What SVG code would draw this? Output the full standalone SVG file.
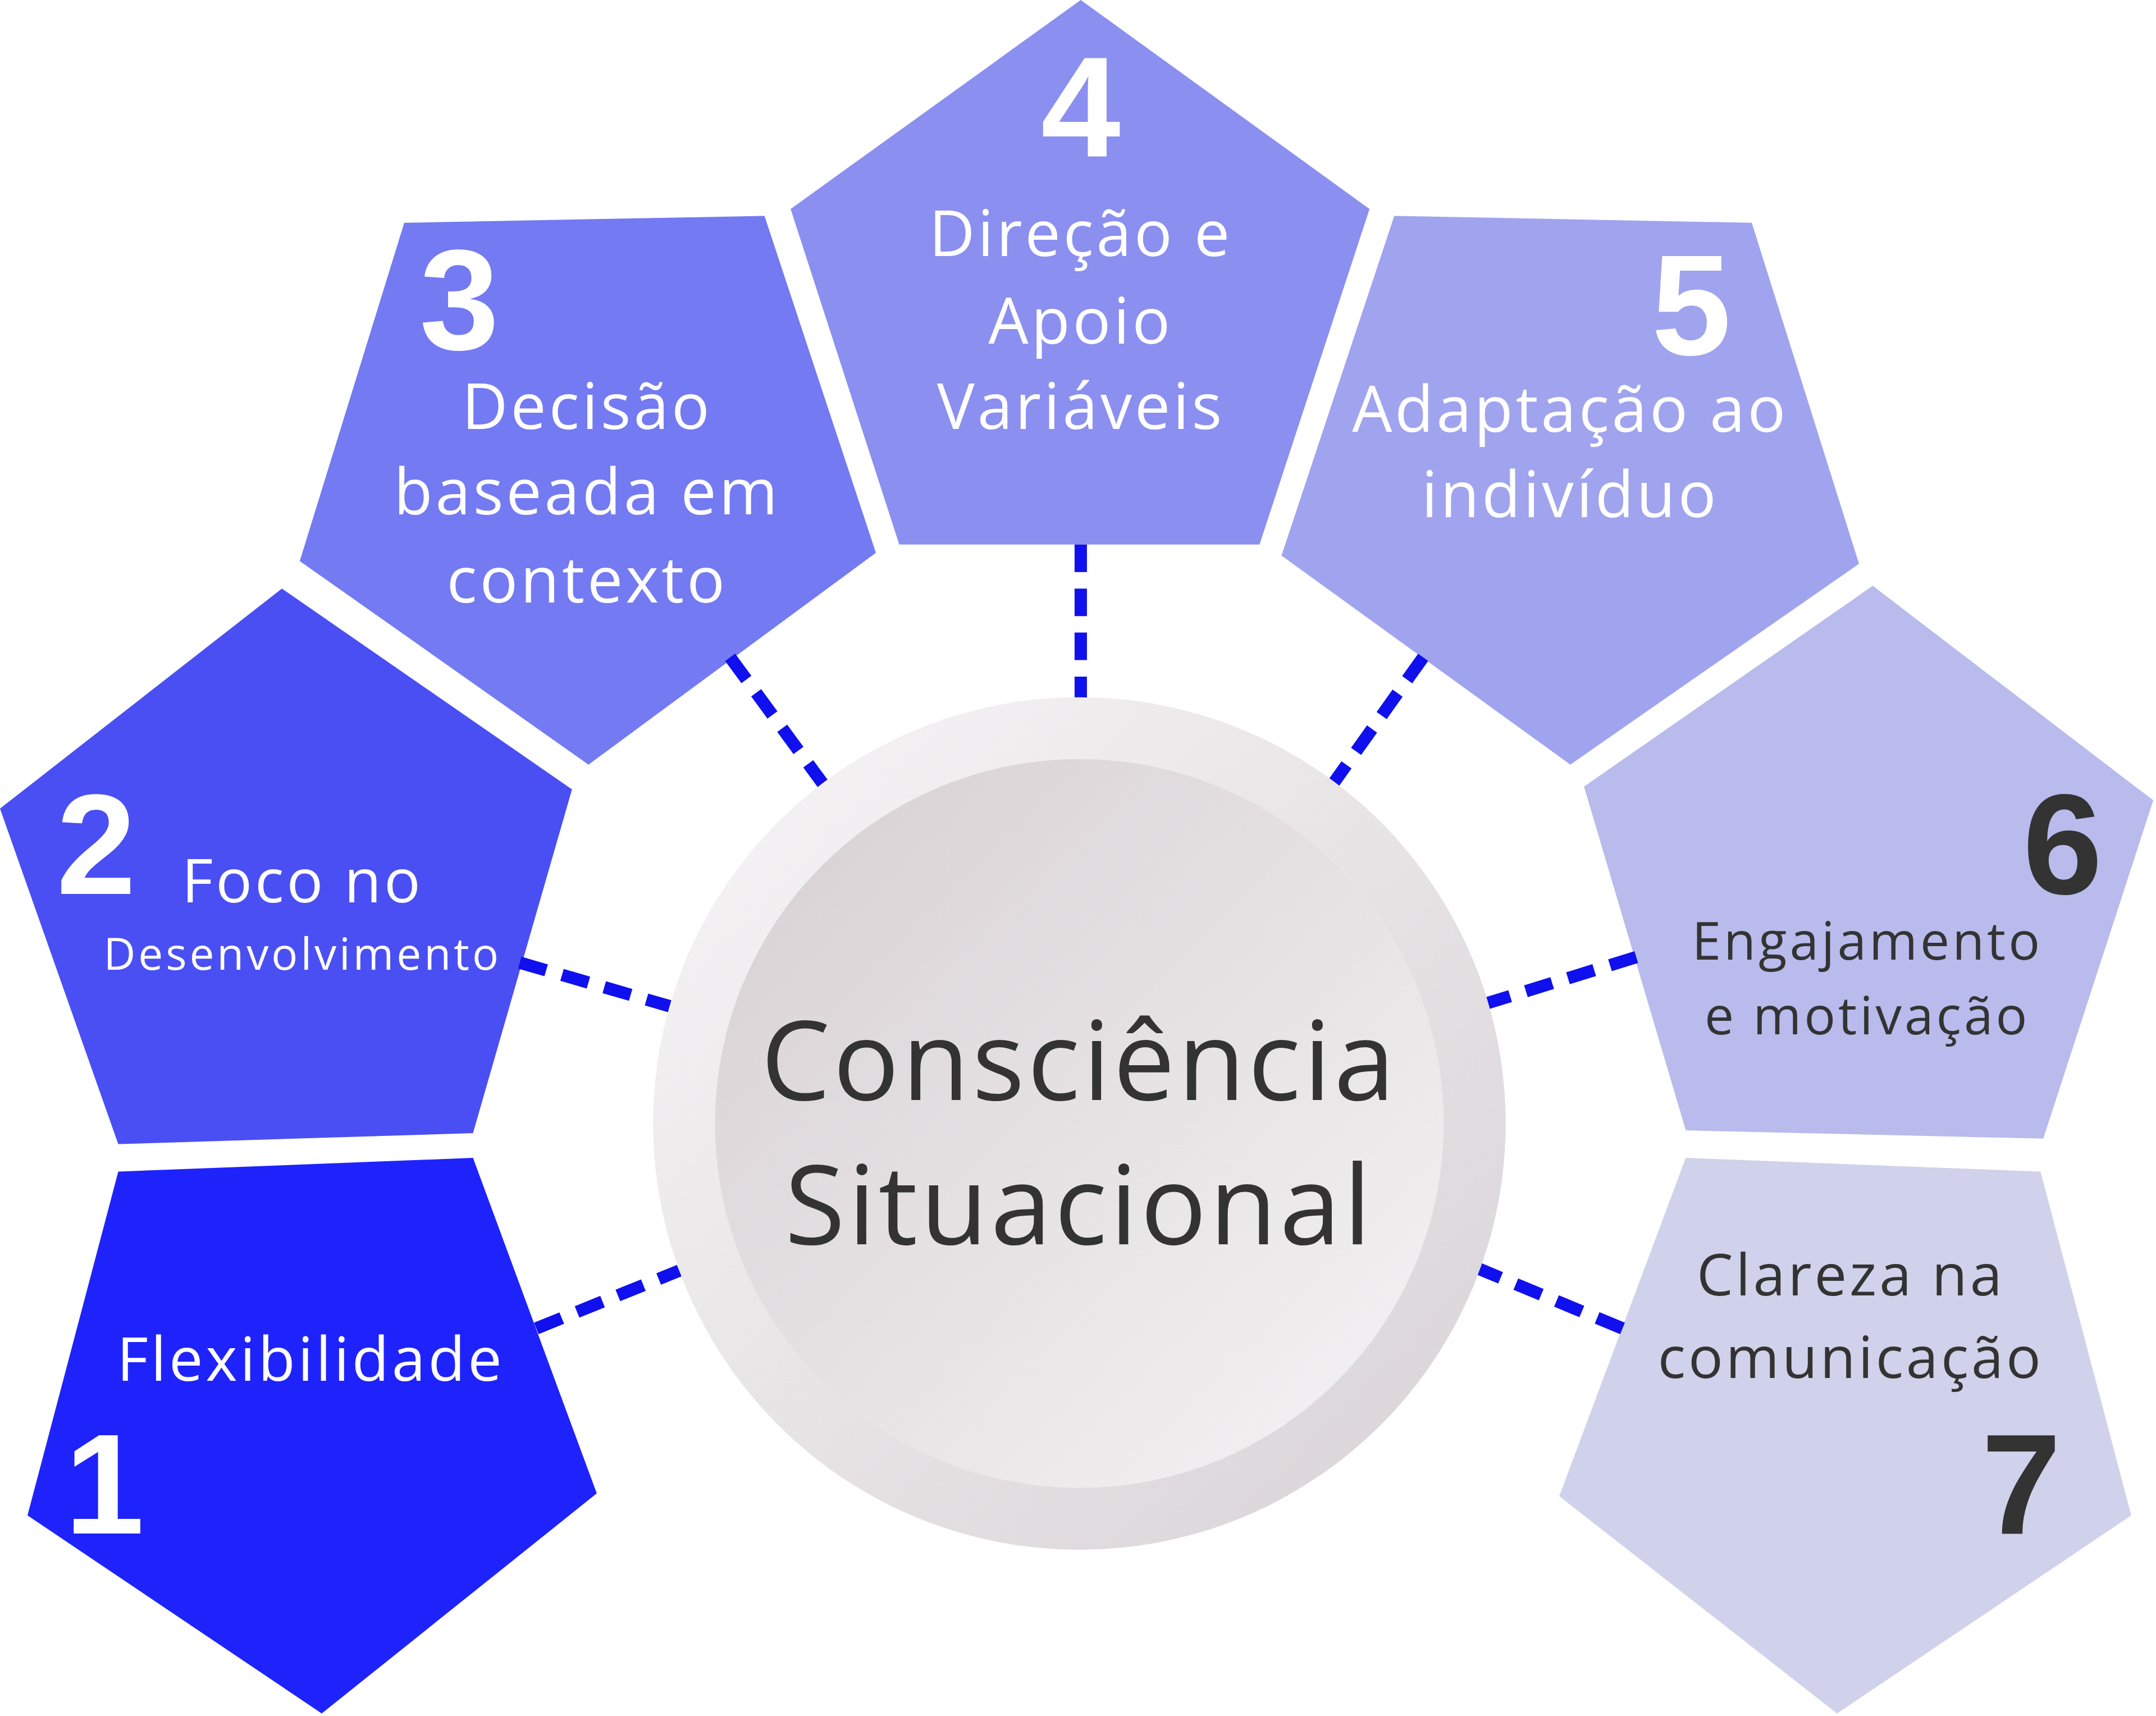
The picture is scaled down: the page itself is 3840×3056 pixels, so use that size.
<svg xmlns="http://www.w3.org/2000/svg" width="3840" height="3056" viewBox="0 0 3840 3056">
<defs>
<linearGradient id="gOuter" x1="0" y1="0" x2="1" y2="1"><stop offset="0" stop-color="#f7f6f7"/><stop offset="1" stop-color="#d8d2d5"/></linearGradient>
<linearGradient id="gInner" x1="0" y1="0" x2="1" y2="1"><stop offset="0" stop-color="#d6cfd2"/><stop offset="1" stop-color="#f5f4f5"/></linearGradient>
<style>
.lbl{font-family:"Open Sans","Liberation Sans",sans-serif;fill:#fff;text-anchor:middle;letter-spacing:2px}
.num{font-family:"Liberation Sans",sans-serif;font-weight:bold;fill:#fff;text-anchor:middle;font-size:104px}
.dk{fill:#333}
.con{stroke:#1010ee;stroke-width:9;stroke-dasharray:20 12;fill:none}
</style>
</defs>
<rect width="3840" height="3056" fill="#fff"/>
<g transform="scale(2.449)">
<g id="node1"><polygon points="86,852 344,842 434,1086 234,1246 20,1102" fill="#1f23fb"/><text class="num" x="76" y="1115">1</text><text class="lbl" x="226" y="1004" font-size="44">Flexibilidade</text></g>
<g id="node2"><polygon points="0,588 205,428 416,574 344,824 86,832" fill="#4a4ff3"/><text class="num" x="70" y="650">2</text><text class="lbl" x="220" y="656" font-size="44">Foco no</text><text class="lbl" x="220" y="705" font-size="32" letter-spacing="1">Desenvolvimento</text></g>
<g id="node3"><polygon points="294,162 556,157 637,402 428,556 218,408" fill="#737af2"/><text class="num" x="334" y="254">3</text><text class="lbl" x="427" y="312" font-size="46">Decisão</text><text class="lbl" x="427" y="374" font-size="46">baseada em</text><text class="lbl" x="427" y="438" font-size="46">contexto</text></g>
<g id="node4"><polygon points="786,0 996,152 916,396 654,396 575,152" fill="#8a8ff0"/><text class="num" x="786" y="114">4</text><text class="lbl" x="786" y="186" font-size="46">Direção e</text><text class="lbl" x="786" y="250" font-size="46">Apoio</text><text class="lbl" x="786" y="312" font-size="46">Variáveis</text></g>
<g id="node5"><polygon points="1014,157 1274,162 1352,410 1142,556 932,404" fill="#a0a4ee"/><text class="num" x="1230" y="258" font-size="100">5</text><text class="lbl" x="1142" y="314" font-size="46">Adaptação ao</text><text class="lbl" x="1142" y="376" font-size="46">indivíduo</text></g>
<g id="node6"><polygon points="1362,426 1566,582 1486,828 1226,822 1152,572" fill="#b8bbec"/><text class="num dk" x="1500" y="650">6</text><text class="lbl dk" x="1358" y="698" font-size="38">Engajamento</text><text class="lbl dk" x="1358" y="752" font-size="38">e motivação</text></g>
<g id="node7"><polygon points="1226,842 1484,852 1550,1102 1336,1246 1134,1088" fill="#d0d1ea"/><text class="num dk" x="1470" y="1115">7</text><text class="lbl dk" x="1346" y="942" font-size="42">Clareza na</text><text class="lbl dk" x="1346" y="1002" font-size="42">comunicação</text></g>
<g id="connectors">
<line class="con" x1="786" y1="396" x2="786" y2="508"/>
<line class="con" x1="531" y1="478" x2="600" y2="572"/>
<line class="con" x1="1035" y1="478" x2="968" y2="572"/>
<line class="con" x1="378" y1="700" x2="488" y2="732"/>
<line class="con" x1="1190" y1="696" x2="1080" y2="730"/>
<line class="con" x1="390" y1="966" x2="494" y2="924"/>
<line class="con" x1="1180" y1="966" x2="1074" y2="922"/>
</g>
<g id="center">
<circle cx="785" cy="817" r="310" fill="url(#gOuter)"/>
<circle cx="785" cy="817" r="265" fill="url(#gInner)"/>
<text class="lbl dk" x="785" y="800" font-size="80">Consciência</text>
<text class="lbl dk" x="785" y="905" font-size="80">Situacional</text>
</g>
</g>
</svg>
